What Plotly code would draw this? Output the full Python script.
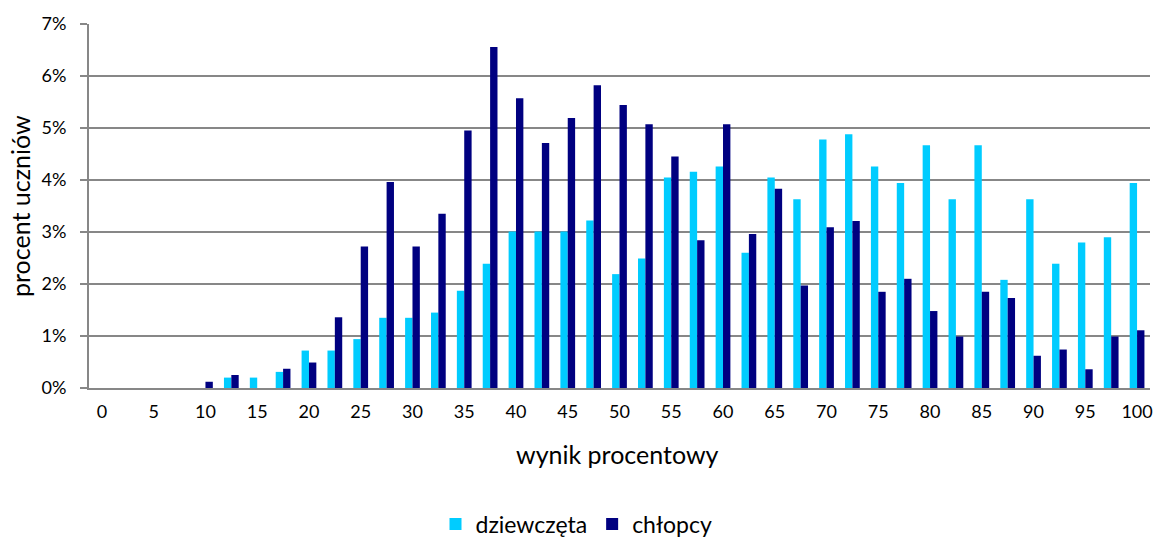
import plotly.graph_objects as go

# categories: wynik procentowy 0, 2.5, ..., 100
wynik = [i * 2.5 for i in range(41)]
tick_vals = list(range(0, 101, 5))
tick_text = [str(v) for v in tick_vals]

dziewczeta = [0, 0, 0, 0, 0, 0.20, 0.20, 0.31, 0.72, 0.72,
              0.94, 1.35, 1.35, 1.45, 1.87, 2.39, 3.01, 3.01, 3.01, 3.22,
              2.19, 2.49, 4.05, 4.16, 4.26, 2.60, 4.05, 3.63, 4.78, 4.88,
              4.26, 3.94, 4.67, 3.63, 4.67, 2.08, 3.63, 2.39, 2.80, 2.90,
              3.94]
chlopcy = [0, 0, 0, 0, 0.12, 0.25, 0, 0.37, 0.49, 1.36,
           2.72, 3.96, 2.72, 3.35, 4.95, 6.56, 5.57, 4.71, 5.19, 5.82,
           5.44, 5.07, 4.45, 2.84, 5.07, 2.96, 3.83, 1.97, 3.09, 3.21,
           1.85, 2.10, 1.48, 0.99, 1.85, 1.73, 0.62, 0.74, 0.36, 0.99,
           1.11]

font_family = "Lato, 'Open Sans', sans-serif"

fig = go.Figure()
fig.add_trace(go.Bar(x=wynik, y=[v / 100 for v in dziewczeta], name="dziewczęta",
                     marker=dict(color="#00CCFF", line=dict(width=0))))
fig.add_trace(go.Bar(x=wynik, y=[v / 100 for v in chlopcy], name="chłopcy",
                     marker=dict(color="#000080", line=dict(width=0))))

fig.update_layout(
    width=1153, height=538,
    margin=dict(l=89, r=3, t=24, b=150, autoexpand=False),
    paper_bgcolor="white", plot_bgcolor="white",
    barmode="group", bargap=0.43, bargroupgap=0,
    font=dict(family=font_family, size=18, color="#000000"),
    showlegend=True,
    legend=dict(orientation="h", xref="container", yref="paper",
                x=0.5, y=-0.374, xanchor="center", yanchor="middle",
                font=dict(size=23), itemwidth=30, traceorder="normal"),
    xaxis=dict(range=[-1.25, 101.25], tickmode="array", tickvals=tick_vals,
               ticktext=tick_text, showgrid=False, showline=True,
               linecolor="#878787", linewidth=2, ticks="", zeroline=False,
               ticklabelstandoff=6, tickfont=dict(size=18)),
    yaxis=dict(range=[0, 0.07], dtick=0.01, tickformat=".0%", showgrid=True,
               gridcolor="#878787", gridwidth=1.5, showline=True,
               linecolor="#878787", linewidth=2, ticks="outside", ticklen=7,
               tickcolor="#878787", tickwidth=1.5, zeroline=False,
               ticklabelstandoff=10, tickfont=dict(size=18)),
    annotations=[
        dict(text="wynik procentowy", xref="paper", yref="paper", x=0.4985, y=-0.18,
             xanchor="center", yanchor="middle", showarrow=False,
             font=dict(size=25)),
        dict(text="procent uczniów", xref="paper", yref="paper", x=-0.065, y=0.5,
             xanchor="center", yanchor="middle", showarrow=False, textangle=-90,
             font=dict(size=25)),
    ],
)

fig.write_html("out.html", config={"displayModeBar": False},
               post_script="document.body.style.margin='0';")
